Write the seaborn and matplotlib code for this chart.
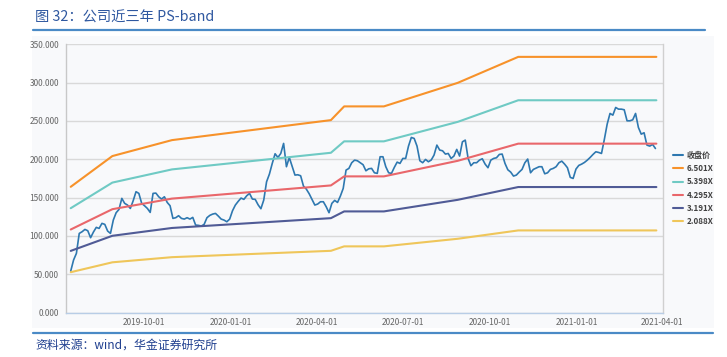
import matplotlib
matplotlib.use('Agg')
import matplotlib.pyplot as plt
import matplotlib.dates as mdates
from matplotlib.patches import Rectangle
from matplotlib.lines import Line2D
import matplotlib.ticker as mticker
import seaborn as sns
import pandas as pd

# ---------------- data ----------------
price_start = '2019-07-16'
price_step = '3D'
price_values = [
    54.2, 68.6, 77.3, 103.3, 105.5, 108.5, 106.8, 97.7, 105.1, 111.2,
    109.8, 116.4, 115.1, 106.4, 103.3, 120.7, 130.3, 134.6, 149.0, 142.5,
    140.3, 135.9, 145.9, 157.7, 155.5, 142.5, 139.4, 135.9, 130.7, 155.5,
    155.9, 151.1, 148.1, 151.1, 143.7, 139.4, 122.9, 123.8, 126.4, 122.9,
    122.0, 123.8, 122.0, 124.2, 114.2, 113.8, 112.9, 115.1, 123.8, 126.8,
    128.5, 129.4, 125.9,
    122.0, 120.7, 118.5, 122.0, 132.9, 140.3, 145.1, 149.4, 147.7, 152.4,
    155.5, 148.1, 147.7, 140.7, 135.5, 146.8, 170.7, 180.7, 194.6, 207.2,
    202.4, 207.6, 220.7, 190.3, 202.4, 191.1, 179.4, 179.8, 178.5, 165.0,
    161.1, 155.1, 147.7, 140.3, 141.6, 144.6, 144.6, 138.1, 130.3, 142.5,
    146.4, 143.7, 152.0, 162.0, 185.9, 188.1, 195.5, 198.9, 198.1, 195.5,
    192.9, 185.0, 187.6, 188.1, 182.4, 181.6, 203.3,
    203.3, 190.3, 182.4, 181.6, 189.4, 196.3, 194.6, 201.1, 201.1, 217.2,
    228.5, 227.2, 217.2, 198.1, 195.5, 199.8, 196.8, 199.0, 205.5, 218.5,
    212.0, 211.1, 206.8, 207.6, 201.1, 204.2, 212.9, 204.2, 222.8, 225.0,
    201.1, 191.6, 195.5, 195.5, 198.9, 200.7, 193.7, 189.0, 198.9, 201.1,
    202.0, 206.3, 206.8, 194.6, 186.3, 183.3, 178.1, 179.4, 183.3, 186.8,
    195.5, 200.3, 182.4, 186.8, 188.5, 190.3, 190.3, 181.1, 182.4, 186.8,
    188.1, 190.3, 195.5, 197.6, 193.7, 189.0, 176.4, 175.0, 187.2, 192.0,
    193.7, 195.9, 198.9, 202.4, 206.3, 209.8, 208.9, 207.6, 225.9, 245.9,
    259.8, 257.6, 267.6, 265.4, 265.4, 264.6, 250.2, 250.2, 251.5, 259.8,
    241.5, 232.8, 234.6, 218.5, 217.2, 219.4, 214.1,
]

band_dates = ['2019-07-16', '2019-08-29', '2019-10-31', '2020-04-16', '2020-04-30',
              '2020-06-11', '2020-08-28', '2020-10-31', '2021-03-26']
band_6501 = [164.1, 204.2, 225.0, 251.1, 269.0, 269.0, 299.7, 333.6, 333.6]
band_5398 = [136.2, 169.6, 186.8, 208.5, 223.4, 223.4, 248.8, 277.0, 277.0]
band_4295 = [108.4, 134.9, 148.7, 165.9, 177.7, 177.7, 198.0, 220.4, 220.4]
band_3191 = [80.5, 100.2, 110.4, 123.2, 132.0, 132.0, 147.1, 163.8, 163.8]
band_2088 = [52.7, 65.6, 72.3, 80.6, 86.4, 86.4, 96.3, 107.2, 107.2]

series_names = ['收盘价', '6.501X', '5.398X', '4.295X', '3.191X', '2.088X']
series_colors = ['#2e78b0', '#f7922a', '#6fcac4', '#e9676b', '#505b96', '#efc65a']

x_ticks = ['2019-10-01', '2020-01-01', '2020-04-01', '2020-07-01',
           '2020-10-01', '2021-01-01', '2021-04-01']
y_ticks = [0, 50, 100, 150, 200, 250, 300, 350]

title_text = '图 32：公司近三年 PS-band'
source_text = '资料来源：wind，华金证券研究所'

# ---------------- table ----------------
price_dates = pd.date_range(price_start, periods=len(price_values), freq=price_step)
frames = [pd.DataFrame({'date': price_dates, 'value': price_values, 'series': series_names[0]})]
for name, vals in zip(series_names[1:], [band_6501, band_5398, band_4295, band_3191, band_2088]):
    frames.append(pd.DataFrame({'date': pd.to_datetime(band_dates), 'value': vals, 'series': name}))
df = pd.concat(frames, ignore_index=True)

# ---------------- style ----------------
sns.set_theme(style='white')
plt.rcParams['font.family'] = ['Noto Sans CJK SC', 'DejaVu Sans']
plt.rcParams['axes.unicode_minus'] = False

W, H = 727, 357
fig = plt.figure(figsize=(W / 100, H / 100), dpi=100)
fig.patch.set_facecolor('white')

panel_col = '#f8f9fb'
bg = Rectangle((32 / W, 1 - 328 / H), (714 - 32) / W, (328 - 36) / H,
               transform=fig.transFigure, facecolor=panel_col,
               edgecolor='none', zorder=-10)
fig.add_artist(bg)

ax = fig.add_axes([66 / W, 1 - 312.6 / H, (663 - 66) / W, (312.6 - 44.3) / H])
ax.set_zorder(5)
ax.set_facecolor(panel_col)

sns.lineplot(data=df, x='date', y='value', hue='series', hue_order=series_names,
             palette=dict(zip(series_names, series_colors)), estimator=None,
             sort=True, linewidth=1.5, ax=ax, legend=True)
for ln in ax.lines[:1]:
    ln.set_linewidth(1.2)

ax.set_ylim(0, 350)
ax.set_yticks(y_ticks)
ax.yaxis.set_major_formatter(mticker.FuncFormatter(lambda v, p: f'{v:.3f}'))
ax.set_xlim(pd.Timestamp('2019-07-11'), pd.Timestamp('2021-04-02'))
ax.set_xticks(pd.to_datetime(x_ticks))
ax.xaxis.set_major_formatter(mdates.DateFormatter('%Y-%m-%d'))
ax.set_xlabel('')
ax.set_ylabel('')

ax.yaxis.grid(True, color='#d9d9d9', linewidth=1.0)
ax.xaxis.grid(False)
ax.set_axisbelow(True)
ax.spines['top'].set_visible(False)
ax.spines['left'].set_color('#c8c8c8')
ax.spines['right'].set_color('#d0d0d0')
ax.spines['bottom'].set_color('#b8cde6')
for s in ['left', 'right', 'bottom']:
    ax.spines[s].set_linewidth(1.0)

ax.tick_params(axis='y', length=0, pad=5, labelsize=6, labelcolor='#666666')
ax.tick_params(axis='x', length=2, width=0.8, color='#b8cde6', pad=2,
               labelsize=6, labelcolor='#666666', direction='out')

leg = ax.legend(loc='upper left', bbox_to_anchor=(673 / W, 1 - 151 / H),
                bbox_transform=fig.transFigure, frameon=False,
                prop={'size': 5.8, 'weight': 'bold'}, handlelength=1.2,
                handletextpad=0.5, labelspacing=0.52, borderpad=0, borderaxespad=0)
for t in leg.get_texts():
    t.set_color('#404040')
for h in leg.get_lines():
    h.set_linewidth(1.5)

fig.text(35 / W, 1 - 18 / H, title_text, fontsize=10.3, color='#2f58a0', va='center', ha='left')
fig.add_artist(Line2D([33 / W, 705 / W], [1 - 29.5 / H] * 2, color='#4a8ac6', lw=1.6))
fig.add_artist(Line2D([33 / W, 713 / W], [1 - 333 / H] * 2, color='#4a8ac6', lw=1.6))
fig.text(35 / W, 1 - 345.5 / H, source_text, fontsize=8.6, color='#1f3f8f',
         va='center', ha='left', style='italic')

fig.savefig('out.png', dpi=100, facecolor='white')
